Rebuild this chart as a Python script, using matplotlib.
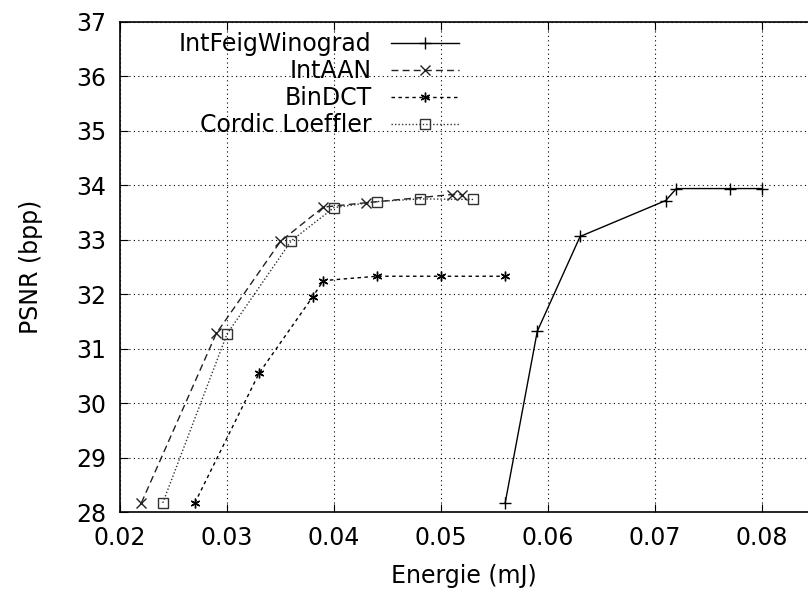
import matplotlib
matplotlib.use("Agg")
import matplotlib.pyplot as plt

# Energie (mJ) / PSNR (bpp) pour chaque transformee
feig_x = [0.056, 0.059, 0.063, 0.071, 0.072, 0.077, 0.080]
feig_y = [28.17, 31.32, 33.06, 33.72, 33.94, 33.94, 33.94]

aan_x = [0.022, 0.029, 0.035, 0.039, 0.043, 0.051, 0.052]
aan_y = [28.17, 31.28, 32.97, 33.60, 33.68, 33.83, 33.83]

bin_x = [0.027, 0.033, 0.038, 0.039, 0.044, 0.050, 0.056]
bin_y = [28.17, 30.55, 31.95, 32.25, 32.33, 32.33, 32.33]

cordic_x = [0.024, 0.030, 0.036, 0.040, 0.044, 0.048, 0.053]
cordic_y = [28.17, 31.27, 32.98, 33.59, 33.70, 33.75, 33.74]

x_ticks = [0.02, 0.03, 0.04, 0.05, 0.06, 0.07, 0.08]
y_ticks = [28, 29, 30, 31, 32, 33, 34, 35, 36, 37]

plt.rcParams['font.family'] = ['DejaVu Sans']
fig = plt.figure(figsize=(8.08, 5.92), dpi=100)
ax = fig.add_axes([0.1485, 0.135, 0.8515, 0.828])

ax.plot(feig_x, feig_y, '-', marker='+', color='black', lw=1, ms=8, mew=1,
        label='IntFeigWinograd')
ax.plot(aan_x, aan_y, linestyle=(0, (5, 3)), marker='x', color='#222222', lw=1,
        ms=6.5, mew=1, label='IntAAN')
ax.plot(bin_x, bin_y, linestyle=(0, (2.5, 2.5)), marker=(6, 2, 0), color='black',
        lw=1, ms=7, mew=1, label='BinDCT')
ax.plot(cordic_x, cordic_y, linestyle=(0, (1, 1.5)), marker='s', color='#333333',
        lw=1, ms=6.5, mew=1, mfc='none', label='Cordic Loeffler')

ax.set_xlim(0.02, 0.0843)
ax.set_ylim(28, 37)
ax.set_xticks(x_ticks)
ax.set_xticklabels([f"{v:g}" for v in x_ticks])
ax.set_yticks(y_ticks)
ax.tick_params(direction='in', top=True, right=False, length=6, labelsize=17, pad=10)
ax.grid(True, linestyle=(0, (1, 3)), color='black', lw=0.8)
ax.spines['right'].set_visible(False)
for s in ['left', 'bottom', 'top']:
    ax.spines[s].set_linewidth(1.2)

ax.set_xlabel('Energie (mJ)', fontsize=17, labelpad=10)
ax.set_ylabel('PSNR (bpp)', fontsize=17, labelpad=24)

leg = ax.legend(loc='upper left', bbox_to_anchor=(0.055, 1.022), frameon=False,
                markerfirst=False, fontsize=17, handlelength=2.9,
                labelspacing=0.12, handletextpad=0.8)
for t in leg.get_texts():
    t.set_ha('right')
leg._legend_box.align = 'right'

fig.savefig('out.png', dpi=100)
